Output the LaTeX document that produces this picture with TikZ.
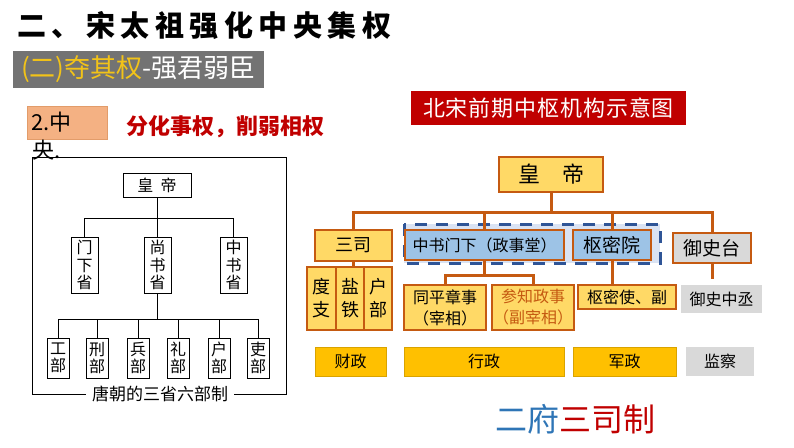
\documentclass[tikz,border=0pt]{standalone}
\usepackage{fontspec}
\setmainfont{Noto Sans CJK SC}
\usetikzlibrary{positioning, calc}

\definecolor{lineor}{HTML}{C55A11}
\definecolor{lightyel}{HTML}{FFD966}
\definecolor{lightblue}{HTML}{9DC3E6}
\definecolor{paleblue}{HTML}{DAE3F3}
\definecolor{dashblue}{HTML}{2F5597}
\definecolor{lightgray}{HTML}{D9D9D9}
\definecolor{govgold}{HTML}{FFC000}
\definecolor{golddark}{HTML}{D9A300}
\definecolor{titlered}{HTML}{C00000}
\definecolor{greybg}{HTML}{737373}
\definecolor{titlegold}{HTML}{F2C318}
\definecolor{peach}{HTML}{F4B183}
\definecolor{peachdark}{HTML}{E29C6A}
\definecolor{fublue}{HTML}{2E75B6}

\begin{document}
\begin{tikzpicture}[
        x=1pt, y=-1pt,
        tang/.style={draw=black, line width=1pt, fill=white, inner sep=0pt, align=center, font=\fontsize{16}{17.5}\selectfont},
        tline/.style={line width=1pt},
        song/.style={draw=lineor, line width=2pt, inner sep=0pt, align=center},
        ybox/.style={song, fill=lightyel},
        bbox/.style={song, fill=lightblue},
        gbox/.style={song, fill=lightgray},
        areabox/.style={fill=govgold, draw=golddark, line width=1pt, inner sep=0pt, minimum height=29pt, font=\fontsize{16}{16}\selectfont},
        link/.style={draw=lineor, line width=3pt},
    ]
    \useasboundingbox (0,0) rectangle (794,447);

    % Heading and the two captions under it
    \node[anchor=west, inner sep=0pt, font=\bfseries\fontsize{29}{29}\selectfont\addfontfeatures{LetterSpace=19}] (title) at (17,25) {二、宋太祖强化中央集权};
    \node[fill=greybg, minimum width=251, minimum height=37, inner sep=0pt] (G-box) at (138.5,69.5) {};
    \node[anchor=west, inner sep=0pt, font=\fontsize{26}{26}\selectfont] (G-text) at (21,69.5) {\textcolor{titlegold}{(二)夺其权}\textcolor{white}{-强君弱臣}};
    \node[fill=peach, draw=peachdark, minimum width=80, minimum height=33, inner sep=0pt, text width=72, align=left, font=\fontsize{22}{22}\selectfont] (O-box) at (67,122.5) {2.中};
    \node[anchor=west, inner sep=0pt, font=\fontsize{22}{22}\selectfont] (O-rest) at (32,150) {央.};
    \node[font=\bfseries\fontsize{22}{22}\selectfont, text=titlered] (slogan) at (225.5,127) {分化事权，削弱相权};

    % Draw the Tang chart: emperor, three departments, six ministries
    \node[tang, minimum width=68, minimum height=24] (T-emp) at (157,185) {皇\ \ 帝};
    \coordinate (T-bar1) at (0,218);
    \coordinate (T-bar2) at (0,319);
    \foreach \name / \x / \txt in {1/84.5/{门\\下\\省}, 2/157.5/{尚\\书\\省}, 3/233.5/{中\\书\\省}}
        \node[tang, minimum width=27, minimum height=56] (S-\name) at (\x,265) {\txt};
    \foreach \name / \x / \txt in {1/58/工, 2/97/刑, 3/138/兵, 4/178/礼, 5/219/户, 6/258/吏}
        \node[tang, minimum width=22, minimum height=40] (B-\name) at (\x,358) {\txt\\部};

    \draw[tline] (T-emp.south) -- (T-emp.south |- T-bar1);
    \draw[tline] (S-1.north) |- (S-3.north |- T-bar1) -- (S-3.north);
    \draw[tline] (S-2.north) -- (S-2.north |- T-bar1);
    \draw[tline] (S-2.south) -- (S-2.south |- T-bar2);
    \draw[tline] (B-1.north) |- (B-6.north |- T-bar2) -- (B-6.north);
    \foreach \source in {2,...,5}
        \draw[tline] (B-\source.north) -- (B-\source.north |- T-bar2);

    % Frame with its caption in the gap
    \node[inner xsep=6pt, font=\fontsize{17}{17}\selectfont] (T-cap) at (160,394) {唐朝的三省六部制};
    \draw[tline] (T-cap.west) -| (32,157) -| (286,394) -- (T-cap.east);

    % Draw the Song chart
    \node[fill=titlered, minimum width=275, minimum height=34, inner sep=0pt, text=white, font=\fontsize{22}{22}\selectfont\addfontfeatures{LetterSpace=4}] (R-title) at (548.5,108) {北宋前期中枢机构示意图};
    \node[ybox, minimum width=104, minimum height=35, font=\fontsize{22}{22}\selectfont] (R-emp) at (551,174.5) {皇\quad 帝};
    \coordinate (R-bar) at (0,212);

    \draw[dashblue, line width=3pt, dash pattern=on 12pt off 9pt, fill=paleblue] (404,224) rectangle (660,263);

    \node[ybox, minimum width=77, minimum height=31, font=\fontsize{18}{18}\selectfont] (R-san) at (353.5,245.5) {三司};
    \node[bbox, minimum width=159, minimum height=30, font=\fontsize{16}{16}\selectfont] (R-zs) at (484.5,245) {中书门下（政事堂）};
    \node[bbox, minimum width=78, minimum height=30, font=\fontsize{19}{19}\selectfont] (R-sm) at (612,245) {枢密院};
    \node[gbox, minimum width=78, minimum height=30, font=\fontsize{19}{19}\selectfont] (R-ys) at (712,248) {御史台};

    \foreach \name / \x / \txt in {1/321.5/{度\\支}, 2/350/{盐\\铁}, 3/378/{户\\部}}
        \node[ybox, minimum width=28.5, minimum height=63, font=\fontsize{18}{23}\selectfont] (R-d\name) at (\x,298.5) {\txt};
    \node[ybox, minimum width=82, minimum height=45, font=\fontsize{16}{21}\selectfont] (R-t1) at (445,307.5) {同平章事\\（宰相）};
    \node[ybox, minimum width=82, minimum height=45, text=lineor, font=\fontsize{16}{21}\selectfont] (R-t2) at (533,307.5) {参知政事\\（副宰相）};
    \node[ybox, minimum width=98, minimum height=24, font=\fontsize{16}{16}\selectfont] (R-sy) at (627,297) {枢密使、副};
    \node[fill=lightgray, minimum width=81, minimum height=28, inner sep=0pt, font=\fontsize{16}{16}\selectfont] (R-yz) at (721.5,299) {御史中丞};
    \coordinate (R-ysend) at (712,279);
    \coordinate (R-bar2) at (0,275);

    % Connect the offices
    \draw[link] (R-emp.south) -- (R-emp.south |- R-bar);
    \draw[link] (R-san.north) |- (R-ys.north |- R-bar) -- (R-ys.north);
    \draw[link] (R-zs.north) -- (R-zs.north |- R-bar);
    \draw[link] (R-sm.north) -- (R-sm.north |- R-bar);
    \draw[link] (R-san.south) -- (R-san.south |- R-d2.north);
    \draw[link] (R-zs.south) -- (R-zs.south |- R-bar2);
    \draw[link] (R-t1.north) |- (R-t2.north |- R-bar2) -- (R-t2.north);
    \draw[link] (R-sm.south) -- (R-sm.south |- R-sy.north);
    \draw[link] (R-ys.south) -- (R-ysend);

    % Bottom row of the four powers
    \foreach \name / \x / \w / \txt in {1/350.5/71/财政, 2/484/160/行政, 3/624.5/103/军政}
        \node[areabox, minimum width=\w] (A-\name) at (\x,361.5) {\txt};
    \node[fill=lightgray, minimum width=68, minimum height=29, inner sep=0pt, font=\fontsize{16}{16}\selectfont] (A-4) at (720,361.5) {监察};

    \node[font=\fontsize{32}{32}\selectfont] (R-sys) at (575,419) {\textcolor{fublue}{二府}\textcolor{titlered}{三司制}};
\end{tikzpicture}
\end{document}
